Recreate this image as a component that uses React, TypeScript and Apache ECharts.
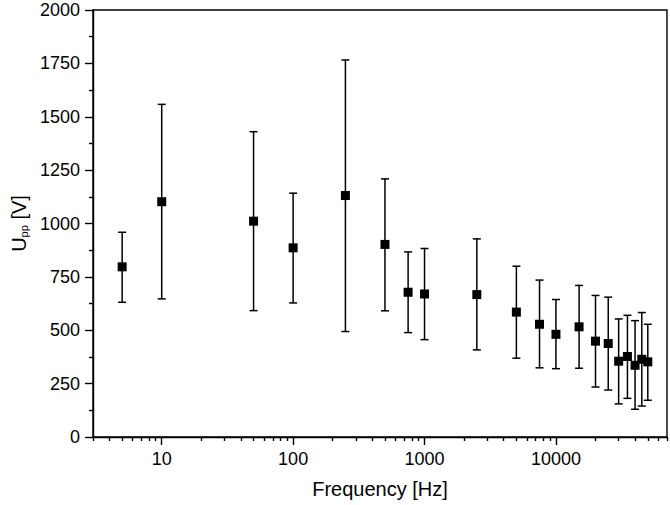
import React, { useEffect, useRef } from "react";
import * as echarts from "echarts";

const frequencies = [5, 10, 50, 100, 250, 500, 750, 1000, 2500, 5000, 7500, 10000, 15000, 20000, 25000, 30000, 35000, 40000, 45000, 50000];
const meanValues = [797, 1102, 1011, 886, 1131, 902, 678, 670, 667, 585, 528, 481, 516, 449, 438, 355, 377, 336, 364, 352];
const upperValues = [959, 1558, 1430, 1142, 1766, 1209, 867, 883, 928, 800, 735, 644, 710, 663, 655, 553, 570, 545, 583, 528];
const lowerValues = [631, 647, 592, 628, 494, 591, 489, 456, 408, 369, 324, 320, 322, 234, 220, 155, 181, 130, 145, 172];
const xMajorTicks = [10, 100, 1000, 10000];
const yTicks = [0, 250, 500, 750, 1000, 1250, 1500, 1750, 2000];

const FONT = "'Liberation Sans', Arial, sans-serif";

function minorTickValues(): number[] {
  const out: number[] = [];
  for (let e = 0; e <= 4; e++) {
    for (let m = 2; m <= 9; m++) {
      const v = m * Math.pow(10, e);
      if (v >= 3 && v <= 70000) out.push(v);
    }
  }
  return out;
}

export default function App() {
  const ref = useRef<HTMLDivElement>(null);
  useEffect(() => {
    if (!ref.current) return;
    const chart = echarts.init(ref.current, null, { renderer: "svg" });
    const errData = frequencies.map((f, i) => [f, lowerValues[i], upperValues[i]]);
    const pts = frequencies.map((f, i) => [f, meanValues[i]]);
    chart.setOption({
      animation: false,
      backgroundColor: "#fff",
      grid: {
        left: 93,
        right: 3,
        top: 10,
        bottom: 68,
        show: true,
        borderColor: "#000",
        borderWidth: 1.4,
        backgroundColor: "transparent",
      },
      xAxis: [
        {
          type: "log",
          logBase: 10,
          min: 3,
          max: 70000,
          name: "Frequency [Hz]",
          nameLocation: "middle",
          nameGap: 42,
          nameTextStyle: { fontFamily: FONT, fontSize: 20, color: "#000" },
          axisLine: { show: true, lineStyle: { color: "#000", width: 1.4 } },
          axisTick: { show: true, length: 8, lineStyle: { color: "#000", width: 1.4 }, customValues: xMajorTicks },
          axisLabel: {
            show: true,
            margin: 13,
            fontFamily: FONT,
            fontSize: 18,
            color: "#000",
            customValues: xMajorTicks,
            formatter: (v: number) => String(Math.round(v)),
          },
          splitLine: { show: false },
        },
        {
          type: "log",
          logBase: 10,
          min: 3,
          max: 70000,
          position: "bottom",
          axisLine: { show: false },
          axisTick: { show: true, length: 4, lineStyle: { color: "#000", width: 1.4 }, customValues: minorTickValues() },
          axisLabel: { show: false },
          splitLine: { show: false },
        },
      ],
      yAxis: {
        type: "value",
        min: 0,
        max: 2000,
        interval: 250,
        name: "U{sub|pp} [V]",
        nameLocation: "middle",
        nameGap: 64,
        nameRotate: 90,
        nameTextStyle: {
          fontFamily: FONT,
          fontSize: 20,
          color: "#000",
          rich: {
            sub: { fontFamily: FONT, fontSize: 11, color: "#000", verticalAlign: "bottom", padding: [9, 0, 0, 0] },
          },
        },
        axisLine: { show: true, lineStyle: { color: "#000", width: 1.4 } },
        axisTick: { show: true, length: 8, lineStyle: { color: "#000", width: 1.4 } },
        minorTick: { show: true, splitNumber: 2, length: 4, lineStyle: { color: "#000", width: 1.4 } },
        axisLabel: {
          margin: 13,
          fontFamily: FONT,
          fontSize: 18,
          color: "#000",
          formatter: (v: number) => (yTicks.includes(v) ? String(v) : ""),
        },
        splitLine: { show: false },
        minorSplitLine: { show: false },
      },
      series: [
        {
          type: "custom",
          xAxisIndex: 0,
          data: errData,
          encode: { x: 0, y: [1, 2] },
          renderItem: (params: any, api: any) => {
            const x = api.value(0);
            const lo = api.coord([x, api.value(1)]);
            const hi = api.coord([x, api.value(2)]);
            const w = 4;
            const style = { stroke: "#000", lineWidth: 1.5 };
            return {
              type: "group",
              children: [
                { type: "line", shape: { x1: lo[0], y1: lo[1], x2: hi[0], y2: hi[1] }, style },
                { type: "line", shape: { x1: lo[0] - w, y1: lo[1], x2: lo[0] + w, y2: lo[1] }, style },
                { type: "line", shape: { x1: hi[0] - w, y1: hi[1], x2: hi[0] + w, y2: hi[1] }, style },
              ],
            };
          },
          z: 2,
        },
        {
          type: "scatter",
          xAxisIndex: 0,
          data: pts,
          symbol: "rect",
          symbolSize: 9,
          itemStyle: { color: "#000", opacity: 1 },
          z: 3,
        },
      ],
    });
    return () => chart.dispose();
  }, []);
  return <div ref={ref} style={{ position: "fixed", left: 0, top: 0, width: 670, height: 505 }} />;
}
